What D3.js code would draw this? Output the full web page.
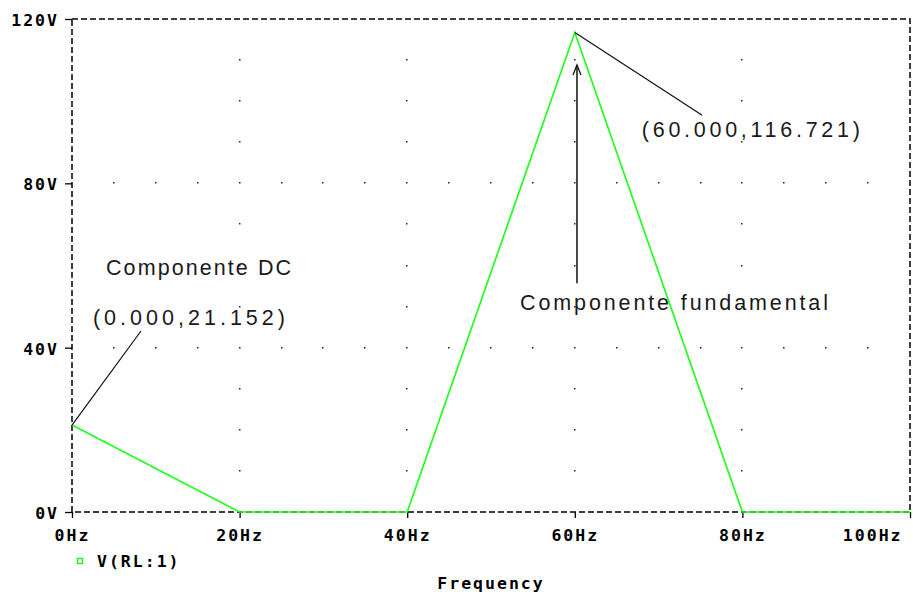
<!DOCTYPE html>
<html>
<head>
<meta charset="utf-8">
<script src="https://cdn.jsdelivr.net/npm/d3@7"></script>
<style>
  body { margin: 0; background: #fff; }
  .axis text, .lbl { font-family: "DejaVu Sans Mono", monospace; font-weight: bold; font-size: 16.5px; fill: #000; letter-spacing: 2px; }
  .axis line { stroke: #000; stroke-width: 1.3; }
  .note { font-family: "Liberation Sans", Arial, sans-serif; font-size: 21.5px; fill: #1a1a1a; }
</style>
</head>
<body>
<div id="chart"></div>
<script>
// spectrum of V(RL:1)
const freqs = [0, 20, 40, 60, 80, 100];
const volts = [21.152, 0, 0, 116.721, 0, 0];
const xTicks = [0, 20, 40, 60, 80, 100];
const yTicks = [0, 40, 80, 120];
const seriesName = "V(RL:1)";

// annotations, in data units (Hz, V)
const noteTexts = ["Componente DC", "(0.000,21.152)", "(60.000,116.721)", "Componente fundamental"];
const noteX = [4.06, 2.5, 68.0, 53.46];
const noteY = [57.7, 45.5, 91.3, 49.2];
const noteLen = [185, 192, 218, 308];

const width = 913;
const height = 596;
const margin = { top: 19, right: 3, bottom: 84, left: 72 };

const svg = d3.select("#chart")
  .append("svg")
  .attr("width", width)
  .attr("height", height);

const x = d3.scaleLinear()
  .domain([0, 100])
  .range([margin.left, width - margin.right]);

const y = d3.scaleLinear()
  .domain([0, 120])
  .range([height - margin.bottom, margin.top]);

// dotted grid: columns at major x, rows at inner major y
const dots = [];
xTicks.slice(1, -1).forEach(f => {
  d3.range(10, 120, 10).forEach(v => dots.push([f, v]));
});
yTicks.slice(1, -1).forEach(v => {
  d3.range(5, 100, 5).forEach(f => {
    if (f % 20 !== 0) dots.push([f, v]);
  });
});
svg.append("g")
  .selectAll("rect")
  .data(dots)
  .join("rect")
  .attr("x", d => Math.round(x(d[0])) - 1)
  .attr("y", d => Math.round(y(d[1])) - 1)
  .attr("width", 1.5)
  .attr("height", 1.5)
  .attr("fill", "#222");

// dashed frame
svg.append("rect")
  .attr("x", x(0))
  .attr("y", y(120))
  .attr("width", x(100) - x(0))
  .attr("height", y(0) - y(120))
  .attr("fill", "none")
  .attr("stroke", "#000")
  .attr("stroke-width", 1.5)
  .attr("stroke-dasharray", "6,3");

const xAxis = svg.append("g")
  .attr("class", "axis")
  .attr("transform", `translate(0, ${y(0)})`)
  .call(d3.axisBottom(x).tickValues(xTicks).tickSize(6).tickPadding(11).tickFormat(d => d + "Hz"));
xAxis.select(".domain").remove();
xAxis.selectAll("text").filter(d => d === 100).attr("text-anchor", "end").attr("dx", "-8");

const yAxis = svg.append("g")
  .attr("class", "axis")
  .attr("transform", `translate(${x(0)}, 0)`)
  .call(d3.axisLeft(y).tickValues(yTicks).tickSize(7).tickPadding(6).tickFormat(d => d + "V"));
yAxis.select(".domain").remove();
yAxis.selectAll("text").attr("dy", "0.4em");

// trace
const pts = freqs.map((f, i) => [f, volts[i]]);
svg.append("path")
  .datum(pts)
  .attr("fill", "none")
  .attr("stroke", "#22ff22")
  .attr("stroke-width", 1.7)
  .attr("d", d3.line().x(d => x(d[0])).y(d => y(d[1])));

// leaders
svg.append("line")
  .attr("x1", x(0)).attr("y1", y(volts[0]))
  .attr("x2", x(8.23)).attr("y2", y(44.06))
  .attr("stroke", "#111").attr("stroke-width", 1.2);
svg.append("line")
  .attr("x1", x(60)).attr("y1", y(volts[3]))
  .attr("x2", x(75.2)).attr("y2", y(96.6))
  .attr("stroke", "#111").attr("stroke-width", 1.2);

// arrow to fundamental
const ax = x(60.26);
svg.append("line")
  .attr("x1", ax).attr("y1", y(55.7))
  .attr("x2", ax).attr("y2", y(108.8))
  .attr("stroke", "#111").attr("stroke-width", 1.5);
svg.append("path")
  .attr("d", `M${ax - 4},${y(108.8) + 10}L${ax},${y(108.8)}L${ax + 4},${y(108.8) + 10}`)
  .attr("fill", "none")
  .attr("stroke", "#111")
  .attr("stroke-width", 1.3);

svg.append("g")
  .selectAll("text")
  .data(noteTexts)
  .join("text")
  .attr("class", "note")
  .attr("x", (d, i) => x(noteX[i]))
  .attr("y", (d, i) => y(noteY[i]))
  .attr("textLength", (d, i) => noteLen[i])
  .attr("lengthAdjust", "spacing")
  .text(d => d);

// legend
svg.append("rect")
  .attr("x", 77.5).attr("y", 558.5)
  .attr("width", 5).attr("height", 5)
  .attr("fill", "none")
  .attr("stroke", "#22ee22")
  .attr("stroke-width", 1.4);
svg.append("text")
  .attr("class", "lbl")
  .attr("x", 97).attr("y", 567)
  .text(seriesName);

svg.append("text")
  .attr("class", "lbl")
  .attr("x", (x(0) + x(100)) / 2)
  .attr("y", 589)
  .attr("text-anchor", "middle")
  .text("Frequency");
</script>
</body>
</html>
